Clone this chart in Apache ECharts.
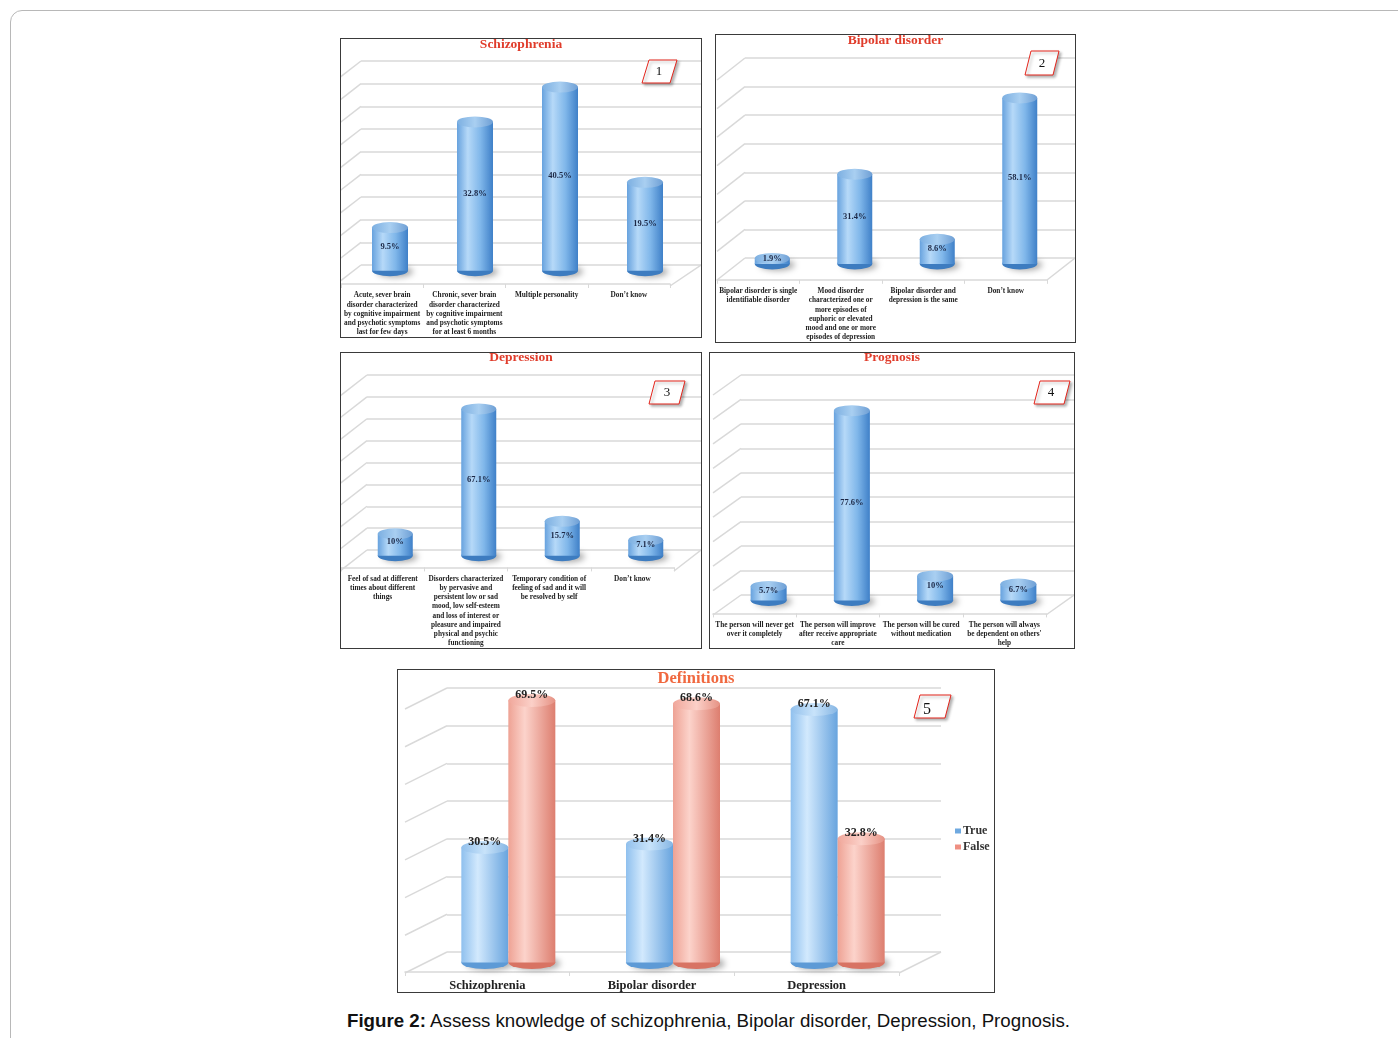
<!DOCTYPE html>
<html>
<head>
<meta charset="utf-8">
<script src="https://cdn.jsdelivr.net/npm/echarts@6/dist/echarts.min.js"></script>
<style>
  html, body { margin: 0; padding: 0; background: #fff; }
  body { width: 1398px; height: 1038px; position: relative; overflow: hidden; }
  #frame { position: absolute; left: 10px; top: 10px; width: 1420px; height: 1100px;
           border: 1px solid #b8b8b8; border-radius: 12px; }
  .panel { position: absolute; border: 1px solid #3a3a3a; box-sizing: border-box; background: #fff; overflow: hidden; }
  .panel > div { width: 100%; height: 100%; }
  #caption { position: absolute; left: 347px; top: 1010px; line-height: 22px;
             font-family: 'Liberation Sans', Arial, sans-serif; font-size: 18.7px; color: #111; white-space: nowrap; }
</style>
</head>
<body>
<div id="frame"></div>
<div class="panel" style="left:340px;top:38px;width:362px;height:300px"><div id="c1"></div></div>
<div class="panel" style="left:715px;top:34px;width:361px;height:309px"><div id="c2"></div></div>
<div class="panel" style="left:340px;top:352px;width:362px;height:297px"><div id="c3"></div></div>
<div class="panel" style="left:709px;top:352px;width:366px;height:297px"><div id="c4"></div></div>
<div class="panel" style="left:397px;top:669px;width:598px;height:324px"><div id="c5"></div></div>
<div id="caption"><b>Figure 2:</b> Assess knowledge of schizophrenia, Bipolar disorder, Depression, Prognosis.</div>

<script>
// ---- data ----
const schizoCategories = [
  'Acute, sever brain\ndisorder characterized\nby cognitive impairment\nand psychotic symptoms\nlast for few days',
  'Chronic, sever brain\ndisorder characterized\nby cognitive impairment\nand psychotic symptoms\nfor at least 6 months',
  'Multiple personality',
  'Don\u2019t know',
];
const schizoValues = [9.5, 32.8, 40.5, 19.5];

const bipolarCategories = [
  'Bipolar disorder is single\nidentifiable disorder',
  'Mood disorder\ncharacterized one or\nmore episodes of\neuphoric or elevated\nmood and one or more\nepisodes of depression',
  'Bipolar disorder and\ndepression is the same',
  'Don\u2019t know',
];
const bipolarValues = [1.9, 31.4, 8.6, 58.1];

const depressionCategories = [
  'Feel of sad at different\ntimes about different\nthings',
  'Disorders characterized\nby pervasive and\npersistent low or sad\nmood, low self-esteem\nand loss of interest or\npleasure and impaired\nphysical and psychic\nfunctioning',
  'Temporary condition of\nfeeling of sad and it will\nbe resolved by self',
  'Don\u2019t know',
];
const depressionValues = [10, 67.1, 15.7, 7.1];

const prognosisCategories = [
  'The person will never get\nover it completely',
  'The person will improve\nafter receive appropriate\ncare',
  'The person will be cured\nwithout medication',
  'The person will always\nbe dependent on others\'\nhelp',
];
const prognosisValues = [5.7, 77.6, 10, 6.7];

const definitionCategories = ['Schizophrenia', 'Bipolar disorder', 'Depression'];
const definitionTrue = [30.5, 31.4, 67.1];
const definitionFalse = [69.5, 68.6, 32.8];

// ---- style ----
const FONT = "'Liberation Serif', 'Times New Roman', serif";
const GRID_COLOR = '#d9d9d9';
const LG = (stops) => new echarts.graphic.LinearGradient(0, 0, 1, 0,
  stops.map(([offset, color]) => ({ offset, color })));

const BLUE = {
  body: () => LG([[0, '#67a2de'], [0.3, '#b6d9f8'], [0.65, '#80b7ea'], [1, '#3f80c8']]),
  cap: () => LG([[0, '#7cafe1'], [0.5, '#a9cff1'], [1, '#6e9fd5']]),
  base: '#3d7cc0',
};
const LIGHT_BLUE = {
  body: () => LG([[0, '#8fc0ee'], [0.35, '#d2e9fd'], [1, '#68a4de']]),
  cap: () => LG([[0, '#92c0ec'], [0.5, '#c8e3fa'], [1, '#86b6e4']]),
  base: '#5d9ad6',
};
const SALMON = {
  body: () => LG([[0, '#eea294'], [0.35, '#fcd3cb'], [1, '#dd7e6f']]),
  cap: () => LG([[0, '#f0a79b'], [0.5, '#fbd0c8'], [1, '#e69284']]),
  base: '#d87363',
};

// one cylinder = base ellipse + body bar + top ellipse (labels sit on the top one)
function cylinder(name, values, pal, w, h, shift, label) {
  const common = { name, xAxisIndex: 1, yAxisIndex: 1, data: values, silent: true };
  return [
    { ...common, type: 'pictorialBar', symbol: 'circle', symbolSize: [w, h],
      symbolPosition: 'start', symbolOffset: [shift, '50%'], z: 1,
      itemStyle: { color: pal.base, shadowColor: 'rgba(0,0,0,0.35)', shadowBlur: 6, shadowOffsetX: 5, shadowOffsetY: 1 } },
    { ...common, type: 'bar', barWidth: w, barGap: '0%', z: 2, itemStyle: { color: pal.body() } },
    { ...common, type: 'pictorialBar', symbol: 'circle', symbolSize: [w, h],
      symbolPosition: 'end', symbolOffset: [shift, '-50%'], z: 3,
      itemStyle: { color: pal.cap() }, label },
  ];
}

const insideLabel = {
  show: true, position: 'inside', formatter: (p) => p.value + '%',
  fontFamily: FONT, fontWeight: 'bold', fontSize: 8.5, color: '#1b2745',
};

function line(x1, y1, x2, y2) {
  return { type: 'line', silent: true, z: 0, shape: { x1, y1, x2, y2 },
           style: { stroke: GRID_COLOR, lineWidth: 1.5 } };
}

function numberBox(pts, text, tx, ty, fs) {
  return [
    { type: 'polygon', silent: true, z: 10, shape: { points: pts },
      style: { fill: '#fff', stroke: '#e3241b', lineWidth: 1,
               shadowColor: 'rgba(0,0,0,0.3)', shadowBlur: 3, shadowOffsetX: 2, shadowOffsetY: 2 } },
    { type: 'text', silent: true, z: 11, x: tx, y: ty,
      style: { text, fill: '#111', font: fs + 'px ' + FONT, align: 'center', verticalAlign: 'middle' } },
  ];
}

// 3D-ish wall: grid 0 = back wall with gridlines, grid 1 = bars (mid depth), grid 2 = floor front + labels
function drawPanel(id, cfg) {
  const el = document.getElementById(id);
  const chart = echarts.init(el);
  const W = el.clientWidth;
  const [dx, dy] = cfg.depth;
  const wallW = W - cfg.left - cfg.right;
  const gridAt = (kx, ky) => ({ left: cfg.left + dx * kx, top: cfg.top + dy * ky, width: wallW, height: cfg.height });
  const valueAxis = (i) => ({
    type: 'value', gridIndex: i, min: 0, max: cfg.max, interval: cfg.interval,
    axisLabel: { show: false }, axisLine: { show: false }, axisTick: { show: false },
    splitLine: { show: i === 0, lineStyle: { color: GRID_COLOR, width: 1.5 } },
  });
  const catAxis = (i) => ({
    type: 'category', gridIndex: i, data: cfg.categories,
    axisLine: { show: i === 2, lineStyle: { color: GRID_COLOR, width: 1.5 } },
    axisTick: { show: i === 2, length: 4, lineStyle: { color: GRID_COLOR } },
    axisLabel: i === 2
      ? { interval: 0, margin: cfg.labelMargin, fontFamily: FONT, fontWeight: 'bold',
          fontSize: cfg.labelSize, lineHeight: cfg.labelLine, color: '#222' }
      : { show: false },
  });

  const shift = cfg.labelShift || 0;
  const grids = [gridAt(0, 0), gridAt(0.5, cfg.barDepthY), gridAt(1, 1)];
  grids[2].left += shift;

  chart.setOption({
    animation: false,
    title: {
      text: cfg.title, left: 'center', top: cfg.titleTop, padding: 0,
      textStyle: { fontFamily: FONT, fontWeight: 'bold', fontSize: cfg.titleSize, color: cfg.titleColor },
    },
    grid: grids,
    xAxis: [catAxis(0), catAxis(1), catAxis(2)],
    yAxis: [valueAxis(0), valueAxis(1), valueAxis(2)],
    legend: cfg.legend || { show: false },
    series: cfg.series,
  });

  // slanted side lines of the wall
  const elements = [];
  for (let v = 0; v <= cfg.max; v += cfg.interval) {
    const y = chart.convertToPixel({ yAxisIndex: 0 }, v);
    elements.push(line(cfg.left, y, cfg.left + dx, y + dy));
  }
  const y0 = chart.convertToPixel({ yAxisIndex: 0 }, 0);
  const R = cfg.left + wallW;
  elements.push(line(R + dx + shift, y0 + dy, R, y0));
  elements.push(...numberBox(cfg.box.pts, cfg.box.text, cfg.box.x, cfg.box.y, cfg.box.size));
  chart.setOption({ graphic: { elements } });
}

const smallPanel = {
  right: 0, labelMargin: 7, labelSize: 7.3, labelLine: 9.2, barDepthY: 0.27,
  titleSize: 13.5, titleColor: '#e03c2b',
};

drawPanel('c1', {
  ...smallPanel, title: 'Schizophrenia', titleTop: -1, labelShift: -4,
  left: 20, top: 22, height: 204, max: 45, interval: 5, depth: [-27, 21],
  categories: schizoCategories,
  series: cylinder('Schizophrenia', schizoValues, BLUE, 36, 11, 0, insideLabel),
  box: { pts: [[301, 44], [308, 21], [336, 21], [329, 44]], text: '1', x: 318, y: 33, size: 13 },
});

drawPanel('c2', {
  ...smallPanel, title: 'Bipolar disorder', titleTop: -1,
  left: 29, top: 23, height: 200, max: 70, interval: 10, depth: [-28, 22],
  categories: bipolarCategories,
  series: cylinder('Bipolar disorder', bipolarValues, BLUE, 35, 11, 0, insideLabel),
  box: { pts: [[309, 40], [315, 16], [343, 16], [337, 40]], text: '2', x: 326, y: 29, size: 13 },
});

drawPanel('c3', {
  ...smallPanel, title: 'Depression', titleTop: -2,
  left: 26, top: 22, height: 175, max: 80, interval: 10, depth: [-27, 21],
  categories: depressionCategories,
  series: cylinder('Depression', depressionValues, BLUE, 35, 11, 0, insideLabel),
  box: { pts: [[308, 51], [314, 28], [344, 28], [338, 51]], text: '3', x: 326, y: 40, size: 13 },
});

drawPanel('c4', {
  ...smallPanel, title: 'Prognosis', titleTop: -2,
  left: 31, top: 22, height: 220, max: 90, interval: 10, depth: [-28, 20],
  categories: prognosisCategories,
  series: cylinder('Prognosis', prognosisValues, BLUE, 36, 11, 0, insideLabel),
  box: { pts: [[324, 51], [330, 28], [360, 28], [354, 51]], text: '4', x: 341, y: 40, size: 13 },
});

const topLabel = (shift) => ({
  show: true, position: 'top', distance: -7, offset: [shift, 0], formatter: (p) => p.value + '%',
  fontFamily: FONT, fontWeight: 'bold', fontSize: 12, color: '#222',
});

drawPanel('c5', {
  title: 'Definitions', titleTop: 0, titleSize: 16.5, titleColor: '#f0683f',
  left: 49, right: 53, top: 18, height: 264, max: 70, interval: 10, depth: [-42, 21], barDepthY: 0.5,
  labelMargin: 7, labelSize: 12.5, labelLine: 13,
  categories: definitionCategories,
  legend: {
    orient: 'vertical', left: 552, top: 150, itemWidth: 6, itemHeight: 5, itemGap: 4,
    icon: 'rect', selectedMode: false,
    textStyle: { fontFamily: FONT, fontWeight: 'bold', fontSize: 12, lineHeight: 12, color: '#333', padding: [0, 0, 0, -3] },
    data: [
      { name: 'True', itemStyle: { color: '#6fa9e0' } },
      { name: 'False', itemStyle: { color: '#ef8f82' } },
    ],
  },
  series: [
    ...cylinder('True', definitionTrue, LIGHT_BLUE, 47, 13, -23.5, topLabel(-23.5)),
    ...cylinder('False', definitionFalse, SALMON, 47, 13, 23.5, topLabel(23.5)),
  ],
  box: { pts: [[516, 48], [522, 25], [553, 25], [547, 48]], text: '5', x: 529, y: 40, size: 16 },
});
</script>
</body>
</html>
